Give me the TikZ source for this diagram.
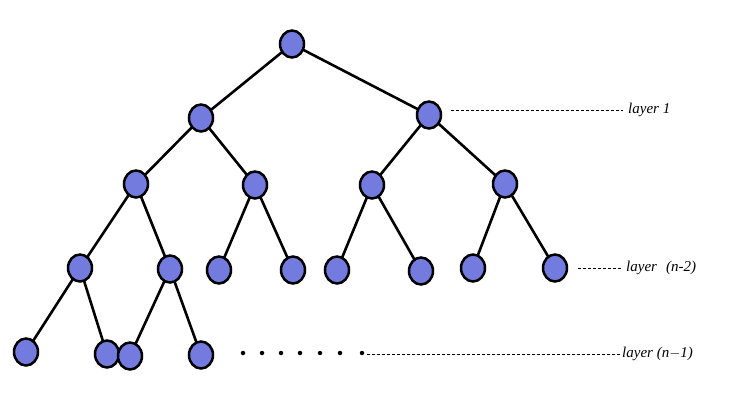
\documentclass[tikz,border=0pt]{standalone}
\usetikzlibrary{shapes.geometric}
\usepackage{fontspec}
\setmainfont{Liberation Serif}
\definecolor{nodeblue}{RGB}{115,123,222}
\begin{document}
\begin{tikzpicture}[x=1pt,y=-1pt,
  tnode/.style={ellipse,draw=black,line width=2.5pt,fill=nodeblue,minimum width=24pt,minimum height=27pt,inner sep=0pt},
  edge/.style={line width=2.6pt,black},
  guide/.style={dashed,dash pattern=on 3pt off 2pt,line width=0.6pt},
  lbl/.style={font=\fontsize{15}{17}\selectfont\itshape,anchor=west,inner sep=0pt},
  dot/.style={circle,fill=black,inner sep=0pt,minimum size=4.5pt}]
\useasboundingbox (0,0) rectangle (747,402);
% node positions
\coordinate (r) at (292,44);
\coordinate (a) at (201,118);
\coordinate (b) at (429,115);
\coordinate (a1) at (136,184);
\coordinate (a2) at (255,185);
\coordinate (b1) at (372,185);
\coordinate (b2) at (505,184);
\coordinate (c1) at (80,268);
\coordinate (c2) at (170,269);
\coordinate (c3) at (219,270);
\coordinate (c4) at (293,270);
\coordinate (c5) at (337,270);
\coordinate (c6) at (421,271);
\coordinate (c7) at (473,268);
\coordinate (c8) at (555,268);
\coordinate (d1) at (26,352);
\coordinate (d2) at (107,354);
\coordinate (d3) at (130,356);
\coordinate (d4) at (201,355);
% edges (drawn first, nodes cover them)
\foreach \p/\c in {r/a,r/b,a/a1,a/a2,b/b1,b/b2,a1/c1,a1/c2,a2/c3,a2/c4,b1/c5,b1/c6,b2/c7,b2/c8,c1/d1,c1/d2,c2/d3,c2/d4}
  \draw[edge] (\p) -- (\c);
% nodes
\foreach \n in {r,a,b,a1,a2,b1,b2,c1,c2,c3,c4,c5,c6,c7,c8,d1,d2,d4,d3}
  \node[tnode] (n\n) at (\n) {};
% dots
\foreach \i/\x in {1/243,2/262,3/281,4/300,5/320,6/340,7/362}
  \node[dot] (dt\i) at (\x,353) {};
% labels
\node[lbl] (l1) at (628,110) {layer 1};
\node[lbl] (l2) at (626,268) {layer\hspace{9pt}(n-2)};
\node[lbl] (l3) at (622,354) {layer (n$-$1)};
\coordinate (g1) at (451,110);
\coordinate (g2) at (578,268);
\coordinate (g3) at (367,354);
\draw[guide] (g1) -- ([xshift=-5pt]g1 -| l1.west);
\draw[guide] (g2) -- ([xshift=-5pt]g2 -| l2.west);
\draw[guide] (g3) -- ([xshift=-2pt]g3 -| l3.west);
\end{tikzpicture}
\end{document}
